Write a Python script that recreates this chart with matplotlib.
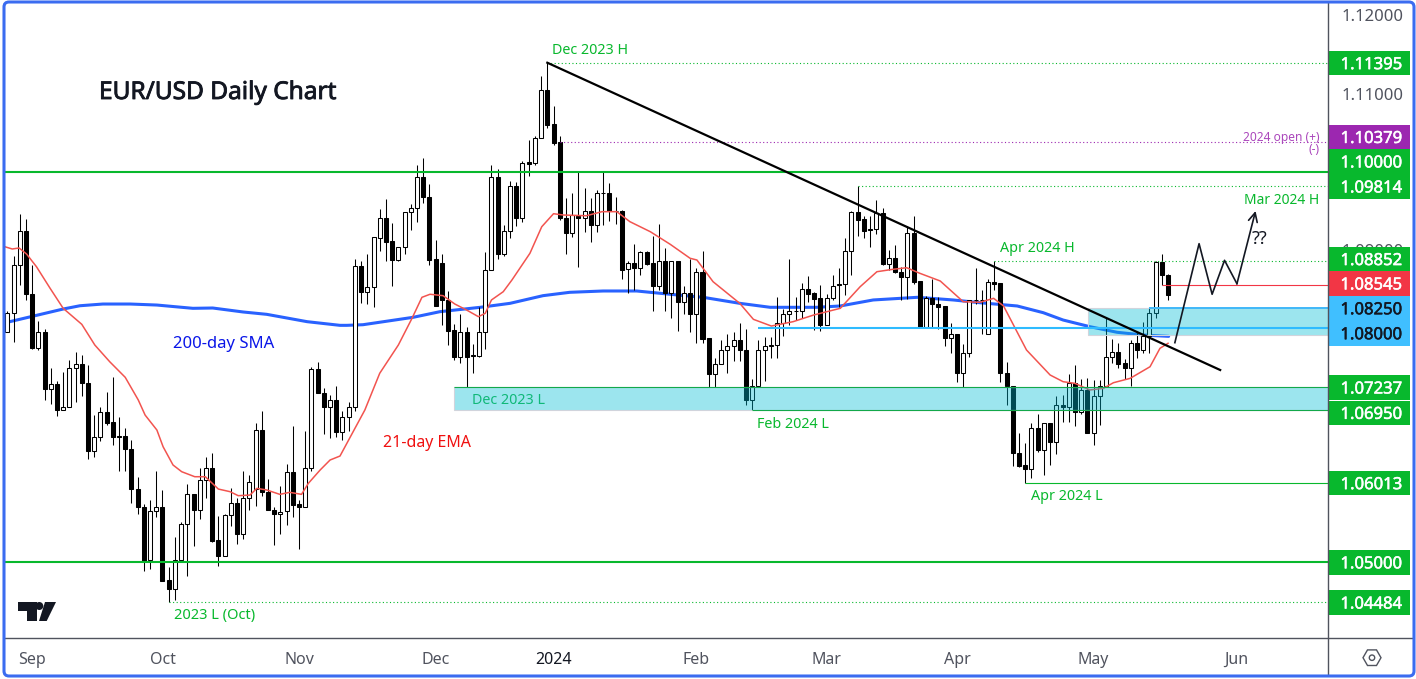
import matplotlib
matplotlib.use('Agg')
import matplotlib.pyplot as plt
import matplotlib.patheffects as pe
from matplotlib.lines import Line2D
from matplotlib.patches import Rectangle, FancyBboxPatch, Polygon, Circle, RegularPolygon
from matplotlib.transforms import Affine2D

plt.rcParams['font.family'] = 'Noto Sans'

# daily candles
opens = [1.0795, 1.0819, 1.0880, 1.09235, 1.0843, 1.0774, 1.0795, 1.0721, 1.07275, 1.0695,
         1.0699, 1.0749, 1.0753, 1.0729, 1.06425, 1.0660, 1.0692, 1.0679, 1.0661, 1.0661,
         1.0645, 1.0593, 1.0571, 1.0502, 1.0565, 1.0570, 1.0477, 1.0466, 1.0503, 1.0548,
         1.0587, 1.0566, 1.0605, 1.0620, 1.0528, 1.0508, 1.0560, 1.0576, 1.0536, 1.0582,
         1.0593, 1.0669, 1.0589, 1.0567, 1.0562, 1.0565, 1.0615, 1.0574, 1.0570, 1.0621,
         1.0747, 1.0717, 1.0699, 1.0708, 1.0667, 1.0686, 1.0698, 1.0879, 1.0846, 1.0852,
         1.0915, 1.0940, 1.0911, 1.0887, 1.0904, 1.0948, 1.0953, 1.0993, 1.0968, 1.0888,
         1.0883, 1.0836, 1.0797, 1.0763, 1.0794, 1.0765, 1.0764, 1.0794, 1.0874, 1.0993,
         1.0894, 1.0924, 1.0982, 1.0940, 1.1012, 1.1011, 1.1043, 1.1105, 1.1061, 1.1038,
         1.0941, 1.0921, 1.0943, 1.0941, 1.0950, 1.0931, 1.0973, 1.0973, 1.0950, 1.0950,
         1.0875, 1.0883, 1.0876, 1.0897, 1.0883, 1.0854, 1.0885, 1.0845, 1.0885, 1.0833,
         1.0845, 1.0818, 1.0871, 1.0787, 1.0741, 1.0754, 1.0771, 1.0777, 1.0784, 1.0771,
         1.0708, 1.0725, 1.0772, 1.0776, 1.0778, 1.0806, 1.0818, 1.0822, 1.0821, 1.0850,
         1.0844, 1.0838, 1.0803, 1.0838, 1.0856, 1.0856, 1.0898, 1.0948, 1.0939, 1.0926,
         1.0926, 1.0947, 1.0882, 1.0889, 1.0872, 1.0865, 1.0922, 1.0860, 1.0801, 1.0838,
         1.0830, 1.0828, 1.0787, 1.0792, 1.0742, 1.0768, 1.0836, 1.0836, 1.0792, 1.0858,
         1.0857, 1.0742, 1.0725, 1.0640, 1.0624, 1.0619, 1.0672, 1.0643, 1.0678, 1.0654,
         1.0701, 1.0698, 1.0729, 1.0692, 1.0720, 1.0665, 1.0712, 1.0725, 1.0762, 1.0769,
         1.0755, 1.0748, 1.0781, 1.0771, 1.0790, 1.0819, 1.0884, 1.0867]

highs = [1.0822, 1.0892, 1.0946, 1.0939, 1.0881, 1.0809, 1.0798, 1.0748, 1.0732, 1.0743,
         1.0759, 1.0769, 1.0765, 1.0752, 1.0688, 1.0699, 1.0718, 1.0737, 1.0686, 1.0671,
         1.0656, 1.0609, 1.0574, 1.0579, 1.0616, 1.0592, 1.0494, 1.0532, 1.0551, 1.0600,
         1.0587, 1.0620, 1.0634, 1.0640, 1.0559, 1.0562, 1.0595, 1.0582, 1.0616, 1.0611,
         1.0678, 1.0694, 1.0606, 1.0571, 1.0597, 1.0626, 1.0674, 1.0580, 1.0668, 1.0750,
         1.0756, 1.0723, 1.0714, 1.0725, 1.0694, 1.0705, 1.0888, 1.0885, 1.0895, 1.0916,
         1.0952, 1.0965, 1.0934, 1.0904, 1.0948, 1.0959, 1.1009, 1.1017, 1.0984, 1.0912,
         1.0894, 1.0847, 1.0805, 1.0818, 1.0801, 1.0779, 1.0827, 1.0897, 1.1009, 1.1003,
         1.0931, 1.0988, 1.0987, 1.1013, 1.1041, 1.1046, 1.1123, 1.11395, 1.1084, 1.1046,
         1.0966, 1.0972, 1.0999, 1.0979, 1.0966, 1.0977, 1.0999, 1.0986, 1.0968, 1.0951,
         1.0885, 1.0907, 1.0898, 1.0898, 1.0917, 1.0933, 1.0902, 1.0885, 1.0885, 1.0853,
         1.0888, 1.0876, 1.0898, 1.0787, 1.0761, 1.0784, 1.0792, 1.0794, 1.0806, 1.0798,
         1.0734, 1.0784, 1.0788, 1.0788, 1.0839, 1.0824, 1.0888, 1.0839, 1.0857, 1.0866,
         1.0846, 1.0855, 1.0843, 1.0868, 1.0876, 1.0915, 1.0950, 1.0981, 1.0943, 1.0943,
         1.0964, 1.0954, 1.0900, 1.0906, 1.0878, 1.0930, 1.0943, 1.0860, 1.0841, 1.0862,
         1.0839, 1.0828, 1.0806, 1.0792, 1.0779, 1.0836, 1.0876, 1.0849, 1.0862, 1.0885,
         1.0857, 1.0756, 1.0725, 1.0665, 1.0653, 1.0678, 1.0690, 1.0678, 1.0678, 1.0712,
         1.0714, 1.0741, 1.0752, 1.0735, 1.0736, 1.0733, 1.0733, 1.0812, 1.0785, 1.0780,
         1.0760, 1.0784, 1.0795, 1.0807, 1.0827, 1.0886, 1.0894, 1.0869]

lows = [1.0794, 1.0782, 1.0855, 1.08355, 1.0773, 1.0772, 1.0707, 1.0702, 1.0687, 1.0695,
        1.0699, 1.0705, 1.0712, 1.0632, 1.0634, 1.0655, 1.0676, 1.0650, 1.0617, 1.0616,
        1.0576, 1.0562, 1.0489, 1.0491, 1.0558, 1.0476, 1.0449, 1.0451, 1.0502, 1.0482,
        1.0520, 1.0555, 1.0582, 1.0526, 1.0495, 1.0508, 1.0546, 1.0523, 1.0529, 1.0566,
        1.0572, 1.0584, 1.0566, 1.0522, 1.0536, 1.0547, 1.0558, 1.0517, 1.0570, 1.0616,
        1.0717, 1.0664, 1.0659, 1.0660, 1.0656, 1.0668, 1.0694, 1.0832, 1.0831, 1.0826,
        1.0898, 1.0886, 1.0853, 1.0885, 1.0895, 1.0925, 1.0935, 1.0960, 1.0880, 1.0828,
        1.0804, 1.0778, 1.0759, 1.0755, 1.0724, 1.0742, 1.0762, 1.0773, 1.0874, 1.0888,
        1.0892, 1.0915, 1.0930, 1.0936, 1.0994, 1.1009, 1.1043, 1.1056, 1.1034, 1.0938,
        1.0894, 1.0916, 1.0878, 1.0923, 1.0910, 1.0923, 1.0931, 1.0937, 1.0933, 1.0862,
        1.0845, 1.0848, 1.0867, 1.0880, 1.0822, 1.0848, 1.0822, 1.0813, 1.0796, 1.0818,
        1.0795, 1.0781, 1.0781, 1.0724, 1.0724, 1.0754, 1.0742, 1.0758, 1.0757, 1.0701,
        1.0695, 1.0724, 1.0732, 1.0761, 1.0761, 1.0790, 1.0803, 1.0810, 1.0812, 1.0833,
        1.0797, 1.0796, 1.0803, 1.0836, 1.0826, 1.0842, 1.0868, 1.0918, 1.0915, 1.0903,
        1.0920, 1.0881, 1.0874, 1.0870, 1.0835, 1.0837, 1.0856, 1.0801, 1.0801, 1.0801,
        1.0799, 1.0776, 1.0768, 1.0731, 1.0724, 1.0763, 1.0830, 1.0792, 1.0792, 1.0848,
        1.0730, 1.0701, 1.0623, 1.0622, 1.0601, 1.0607, 1.0641, 1.0611, 1.0624, 1.0638,
        1.0679, 1.0679, 1.0674, 1.0690, 1.0665, 1.0650, 1.0675, 1.0724, 1.0755, 1.0748,
        1.0735, 1.0725, 1.0761, 1.0768, 1.0768, 1.0813, 1.0855, 1.0836]

closes = [1.0819, 1.0880, 1.09235, 1.0843, 1.0774, 1.0795, 1.0721, 1.07275, 1.0695, 1.0699,
          1.0749, 1.0753, 1.0729, 1.06425, 1.0660, 1.0692, 1.0678, 1.0660, 1.0660, 1.0645,
          1.0593, 1.0571, 1.0501, 1.0565, 1.0570, 1.0476, 1.0466, 1.0503, 1.0549, 1.0587,
          1.0566, 1.0605, 1.0620, 1.0527, 1.0508, 1.0560, 1.0576, 1.0536, 1.0582, 1.0603,
          1.0669, 1.0589, 1.0566, 1.0562, 1.0564, 1.0615, 1.0573, 1.0570, 1.0621, 1.0747,
          1.0717, 1.0699, 1.0708, 1.0667, 1.0686, 1.0698, 1.0879, 1.0846, 1.0852, 1.0916,
          1.0940, 1.0910, 1.0887, 1.0904, 1.0948, 1.0953, 1.0993, 1.0968, 1.0887, 1.0828,
          1.0836, 1.0796, 1.0763, 1.0794, 1.0763, 1.0764, 1.0794, 1.0874, 1.0993, 1.0894,
          1.0924, 1.0981, 1.0940, 1.1011, 1.1010, 1.1043, 1.1105, 1.1060, 1.1037, 1.0941,
          1.0921, 1.0944, 1.0941, 1.0950, 1.0931, 1.0972, 1.0972, 1.0950, 1.0949, 1.0874,
          1.0883, 1.0876, 1.0897, 1.0882, 1.0854, 1.0885, 1.0845, 1.0885, 1.0833, 1.0845,
          1.0818, 1.0871, 1.0786, 1.0741, 1.0754, 1.0771, 1.0777, 1.0784, 1.0771, 1.0708,
          1.0726, 1.0772, 1.0776, 1.0778, 1.0806, 1.0818, 1.0822, 1.0821, 1.0850, 1.0843,
          1.0837, 1.0803, 1.0838, 1.0854, 1.0855, 1.0898, 1.0948, 1.0938, 1.0924, 1.0925,
          1.0947, 1.0882, 1.0889, 1.0872, 1.0865, 1.0922, 1.0859, 1.0801, 1.0838, 1.0830,
          1.0827, 1.0787, 1.0792, 1.0742, 1.0768, 1.0836, 1.0835, 1.0835, 1.0858, 1.0856,
          1.0742, 1.0725, 1.0640, 1.0623, 1.0619, 1.0672, 1.0643, 1.0678, 1.0654, 1.0701,
          1.0698, 1.0729, 1.0692, 1.0720, 1.0665, 1.0712, 1.0725, 1.0762, 1.0769, 1.0754,
          1.0748, 1.0781, 1.0771, 1.0790, 1.0819, 1.0884, 1.0867, 1.0842]

# moving averages
sma_x = [-0.3, 0.4, 9.0, 11.7, 15.4, 19.8, 24.1, 29.9, 33.1, 38.0, 41.8, 48.3, 53.6, 54.7, 57.3,
         65.4, 69.7, 76.2, 81, 86.3, 90.6, 96, 101.4, 106.8, 112.1, 118, 122.9, 130.4, 134.2,
         139.5, 146.6, 152.4, 156.7, 162.7, 166.9, 170.1, 174.4, 178.8, 183, 187.1]
sma_y = [1.08060, 1.08078, 1.08240, 1.08282, 1.08304, 1.08304, 1.08291, 1.08249, 1.08253, 1.08202,
         1.08172, 1.08078, 1.08031, 1.08031, 1.08039, 1.08134, 1.08206, 1.08262, 1.08313, 1.08411,
         1.08454, 1.08471, 1.08471, 1.08429, 1.08390, 1.08313, 1.08262, 1.08262, 1.08279, 1.08356,
         1.08390, 1.08356, 1.08321, 1.08279, 1.08193, 1.08099, 1.08014, 1.07942, 1.07907, 1.07890]

ema_x = [-0.4, 0.8, 1.9, 3.1, 4.7, 6.9, 9.0, 12.0, 14.1, 16.5, 19, 21.1, 22.2, 24.1, 25.1, 26.7,
         28.1, 30.2, 31.9, 34, 35.9, 37.2, 39.1, 40.2, 41.8, 43.9, 45.5, 47.4, 48.5, 50.4, 52,
         53.6, 57.6, 60, 63, 65.2, 66.8, 68.1, 70.2, 72.1, 74, 75.9, 77, 78, 79.9, 81.3, 84.2,
         86.1, 88, 89.6, 93.3, 95.8, 98.2, 100.3, 103.6, 106.8, 110, 111.1, 113.7, 118, 120.2,
         123.1, 126.6, 129.9, 134.2, 137.4, 140.1, 142.7, 144.9, 147, 150.3, 154, 156.7, 158.9,
         160.5, 164.2, 168, 170.1, 172, 174.4, 176.6, 178.2, 180.9, 184.1, 185.7, 187]
ema_y = [1.09038, 1.09009, 1.09022, 1.08945, 1.08782, 1.08505, 1.08249, 1.08044, 1.07779, 1.07565,
         1.07365, 1.07075, 1.06882, 1.06690, 1.06476, 1.06242, 1.06156, 1.06092, 1.06092, 1.05934,
         1.05900, 1.05849, 1.05857, 1.05943, 1.05922, 1.05866, 1.05892, 1.05866, 1.06007, 1.06178,
         1.06306, 1.06357, 1.06946, 1.07417, 1.07779, 1.08121, 1.08390, 1.08429, 1.08411, 1.08304,
         1.08227, 1.08142, 1.08185, 1.08356, 1.08462, 1.08612, 1.08954, 1.09294, 1.09461, 1.09444,
         1.09435, 1.09487, 1.09487, 1.09359, 1.09230, 1.09069, 1.08890, 1.08868, 1.08590, 1.08313,
         1.08108, 1.08022, 1.08078, 1.08163, 1.08249, 1.08526, 1.08718, 1.08749, 1.08769, 1.08698,
         1.08599, 1.08334, 1.08326, 1.08377, 1.08279, 1.07715, 1.07395, 1.07309, 1.07288, 1.07203,
         1.07224, 1.07296, 1.07352, 1.07501, 1.07737, 1.07801]

# drawn projection path and trendline
path_x = [188.1, 192.0, 194.1, 196.1, 198.1, 201.1]
path_y = [1.07809, 1.09077, 1.08429, 1.08864, 1.08564, 1.09496]
trend_x = [87, 195.4]
trend_y = [1.11395, 1.07459]

# axes
month_pos = [4, 25, 47, 69, 88, 111, 132, 153, 175, 198]
month_names = ['Sep', 'Oct', 'Nov', 'Dec', '2024', 'Feb', 'Mar', 'Apr', 'May', 'Jun']
# the other round levels sit fully behind the price boxes
price_ticks = [1.09, 1.11, 1.12]

# price boxes: text, centre of box, fill, text colour
box_text = ['1.11395', '1.10379', '1.10000', '1.09814', '1.08852', '1.08545', '1.08250',
            '1.08000', '1.07237', '1.06950', '1.06013', '1.05000', '1.04484']
box_y = [1.1139, 1.10444, 1.1013, 1.0981, 1.0888, 1.08568, 1.0825,
         1.0793, 1.07235, 1.0691, 1.0601, 1.04995, 1.0448]
box_col = ['#08b82d', '#9c27b0', '#08b82d', '#08b82d', '#08b82d', '#f23645', '#40bfff',
           '#40bfff', '#08b82d', '#08b82d', '#08b82d', '#08b82d', '#08b82d']
box_txt = ['white'] * 6 + ['#131722'] * 2 + ['white'] * 5

GREEN = '#08b82d'
AXIS = '#50535e'
DOTS = (0, (1, 2.2))

fig = plt.figure(figsize=(14.16, 6.79), dpi=100)
ax = fig.add_axes([5 / 1416, 1 - 638 / 679, 1323 / 1416, 635 / 679])
ax.set_xlim(-0.37, 212.77)
ax.set_ylim(1.04026, 1.1216)
XMAX = 212.77

# pixel coordinates, for the bits that are not data
px = Affine2D().scale(1 / 1416, -1 / 679).translate(0, 1) + fig.transFigure

for s in ax.spines.values():
    s.set_visible(False)

ax.set_xticks(month_pos)
ax.set_xticklabels(month_names, fontsize=11.5, color=AXIS)
ax.get_xticklabels()[4].set_fontweight('bold')
ax.get_xticklabels()[4].set_color('#131722')
ax.tick_params(axis='x', length=0, pad=10)
ax.yaxis.tick_right()
ax.set_yticks(price_ticks)
ax.set_yticklabels(['%.5f' % p for p in price_ticks], fontsize=12, color=AXIS)
ax.tick_params(axis='y', length=0, pad=9.4)
for t in ax.get_yticklabels():
    t.set_va('center_baseline')

# SMA sits under the candles, EMA over them
ax.plot(sma_x, sma_y, color='#2962ff', lw=2.2, zorder=2, solid_capstyle='round')

for i in range(len(opens)):
    ax.vlines(i, lows[i], highs[i], color='black', lw=0.75, zorder=3, snap=True)
    up = closes[i] >= opens[i]
    ax.bar(i, abs(closes[i] - opens[i]), bottom=min(opens[i], closes[i]), width=0.645,
           color='white' if up else 'black', edgecolor='black', lw=0.75, zorder=3.1)

ax.plot(ema_x, ema_y, color='#f2544f', lw=1.1, zorder=4)

# support zones, translucent over the candles
zone = (0, 0.737, 0.831, 0.39)
ax.add_patch(Rectangle((71.96, 1.0695), XMAX - 71.96, 0.00287, fc=zone, ec='#d1d4dc', lw=0.8, zorder=5))
ax.add_patch(Rectangle((174.1, 1.0791), XMAX - 174.1, 0.0034, fc=zone, ec='#d1d4dc', lw=0.8, zorder=5))

# levels
ax.hlines([1.10, 1.05], -0.37, XMAX, color=GREEN, lw=1.5, zorder=6)
ax.hlines(1.07237, 71.96, XMAX, color='#13a84a', lw=0.8, zorder=6)
ax.hlines(1.0695, 120, XMAX, color='#13a84a', lw=0.8, zorder=6)
ax.hlines(1.06013, 164, XMAX, color=GREEN, lw=0.8, zorder=6)
ax.hlines(1.11395, 87, XMAX, color=GREEN, lw=0.8, linestyles=DOTS, zorder=6)
ax.hlines(1.09814, 137, XMAX, color=GREEN, lw=0.8, linestyles=DOTS, zorder=6)
ax.hlines(1.08852, 159, XMAX, color=GREEN, lw=0.8, linestyles=DOTS, zorder=6)
ax.hlines(1.04484, 26, XMAX, color=GREEN, lw=0.8, linestyles=DOTS, zorder=6)
ax.hlines(1.10379, 89, XMAX, color='#9c27b0', lw=0.8, linestyles=DOTS, zorder=6)
ax.hlines(1.08545, 186, XMAX, color='#f23645', lw=0.8, zorder=6)
ax.hlines(1.0825, 184, XMAX, color='#3fb8f8', lw=1.4, zorder=6)
ax.hlines(1.08, 121, XMAX, color='#2ebbff', lw=1.5, zorder=6)

ax.plot(trend_x, trend_y, color='black', lw=1.6, zorder=7)
ax.plot(path_x[:-1], path_y[:-1], color='#131722', lw=1.2, zorder=7)
ax.annotate('', xy=(path_x[-1], path_y[-1]), xytext=(path_x[-2], path_y[-2]), zorder=7,
            arrowprops=dict(arrowstyle='->', color='#131722', lw=1.2, mutation_scale=16,
                            shrinkA=0, shrinkB=0))

# price boxes on the axis
yax = ax.get_yaxis_transform()
for t, y, c, tc in zip(box_text, box_y, box_col, box_txt):
    ax.add_patch(Rectangle((1, y - 0.00158), 82 / 1323, 0.00316, fc=c, ec='none',
                           transform=yax, clip_on=False, zorder=10))
    ax.text(1.0329, y, t, transform=yax, color=tc, fontsize=12, ha='center', va='center_baseline',
            zorder=11, clip_on=False,
            path_effects=[pe.withStroke(linewidth=0.35, foreground=tc)])

# annotations
def label(x, y, s, color=GREEN, size=10.3, ha='left', **kw):
    ax.text(x, y, s, transform=px, color=color, fontsize=size, ha=ha, va='center_baseline', zorder=8, **kw)

label(99, 90, 'EUR/USD Daily Chart', color='#131722', size=17.6,
      path_effects=[pe.withStroke(linewidth=0.6, foreground='#131722')])
label(552, 49, 'Dec 2023 H')
label(173, 342, '200-day SMA', color='#0a16e8', size=12)
label(383, 441, '21-day EMA', color='#f01010', size=11.5)
label(472, 398.5, 'Dec 2023 L', color='#10b878')
label(757, 422, 'Feb 2024 L')
label(1000, 247, 'Apr 2024 H')
label(1031, 494, 'Apr 2024 L')
label(1244, 198, 'Mar 2024 H', size=10)
label(174, 614, '2023 L (Oct)', size=10.5)
label(1252, 237, '??', color='#131722', size=13, fontweight='bold')
label(1320, 135.5, '2024 open (+)', color='#ab47bc', size=8.6, ha='right')
label(1320, 148, '(-)', color='#ab47bc', size=8.6, ha='right')

# logo and settings icon
logo = '#131722'
fig.add_artist(Polygon([(18, 602), (37, 602), (37, 621), (27, 621), (27, 611), (18, 611)], fc=logo, ec='none', transform=px))
fig.add_artist(Circle((39.3, 606), 4, fc=logo, ec='none', transform=px))
fig.add_artist(Polygon([(45, 602), (56, 602), (46.7, 621), (39, 621)], fc=logo, ec='none', transform=px))
fig.add_artist(RegularPolygon((1372, 657.7), 6, radius=9, orientation=0.5236, fc='none', ec=AXIS, lw=1, transform=px))
fig.add_artist(Circle((1372, 657.7), 2.7, fc='none', ec=AXIS, lw=1, transform=px))

# panel lines and blue frame
fig.add_artist(Line2D([5, 1413], [638, 638], color=AXIS, lw=1, transform=px))
fig.add_artist(Line2D([1328, 1328], [3, 675], color=AXIS, lw=1, transform=px))
fig.add_artist(FancyBboxPatch((4, 2), 1410, 674, boxstyle='round,pad=0,rounding_size=5',
                              fc='none', ec='#3b6cf0', lw=2.2, transform=px, zorder=20))

fig.savefig('out.png', dpi=100)
